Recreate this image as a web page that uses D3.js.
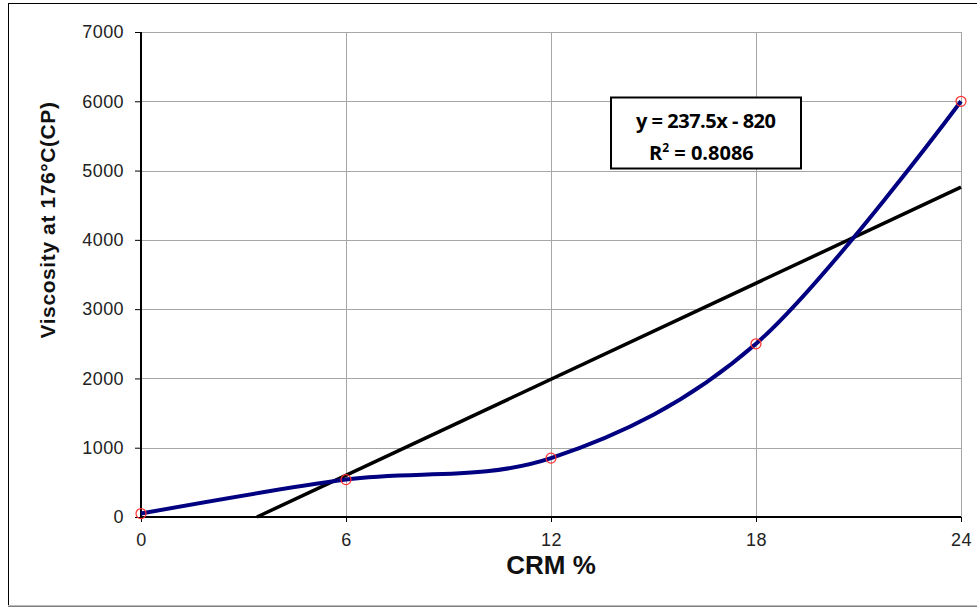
<!DOCTYPE html>
<html><head><meta charset="utf-8">
<script src="https://cdn.jsdelivr.net/npm/d3@7"></script>
<style>body{margin:0;background:#fff}svg{display:block}</style>
</head><body>
<svg id="c" width="977" height="607"></svg>
<script>
const crm = [0, 6, 12, 18, 24];
const viscosity = [50, 540, 850, 2500, 6000];
const xTicks = [0, 6, 12, 18, 24];
const yTicks = [0, 1000, 2000, 3000, 4000, 5000, 6000, 7000];
const eqLabel = "y = 237.5x - 820";
const r2Label = "0.8086";

const svg = d3.select("#c");
const m = {l:141, r:961, t:32, b:517};
const x = d3.scaleLinear().domain([0,24]).range([m.l, m.r]);
const y = d3.scaleLinear().domain([0,7000]).range([m.b, m.t]);

// chart border
svg.append("rect").attr("x",8.5).attr("y",3.5).attr("width",990).attr("height",602.5)
  .attr("fill","#fff").attr("stroke","#000").attr("stroke-width",1);
svg.append("line").attr("x1",8).attr("x2",977).attr("y1",605.5).attr("y2",605.5).attr("stroke","#bbb");

// grid
svg.append("g").selectAll("line").data(yTicks.filter(d=>d>0)).join("line")
  .attr("x1",m.l).attr("x2",m.r).attr("y1",d=>Math.round(y(d))+0.5).attr("y2",d=>Math.round(y(d))+0.5)
  .attr("stroke","#a6a6a6").attr("stroke-width",1);
svg.append("g").selectAll("line").data(xTicks.filter(d=>d>0)).join("line")
  .attr("y1",m.t).attr("y2",m.b).attr("x1",d=>Math.round(x(d))+0.5).attr("x2",d=>Math.round(x(d))+0.5)
  .attr("stroke","#a6a6a6").attr("stroke-width",1);

// axes
const gx = svg.append("g").attr("transform",`translate(0,${m.b})`)
  .call(d3.axisBottom(x).tickValues(xTicks).tickFormat(d3.format("d")).tickSize(5).tickPadding(11));
const gy = svg.append("g").attr("transform",`translate(${m.l},0)`)
  .call(d3.axisLeft(y).tickValues(yTicks).tickFormat(d3.format("d")).tickSize(6).tickPadding(11));
[gx,gy].forEach(g=>{
  g.select(".domain").attr("stroke","#000").attr("stroke-width",2);
  g.selectAll(".tick line").attr("stroke","#000");
  g.selectAll("text").attr("font-family","Liberation Sans, Arial, sans-serif").attr("font-size",18)
    .attr("letter-spacing",0.4).attr("fill","#222");
});
gx.select(".domain").attr("d",`M${m.l},0H${m.r}`);
gy.select(".domain").attr("d",`M0,${m.b}V${m.t}`);

// trendline (least squares)
const mx = d3.mean(crm), my = d3.mean(viscosity);
const slope = d3.sum(crm.map((v,i)=>(v-mx)*(viscosity[i]-my)))/d3.sum(crm.map(v=>(v-mx)**2));
const icpt = my - slope*mx;
const x0 = -icpt/slope;
svg.append("line").attr("x1",x(x0)).attr("y1",y(0)).attr("x2",x(24)).attr("y2",y(icpt+slope*24))
  .attr("stroke","#000").attr("stroke-width",3.5);

// smooth series
const pts = crm.map((v,i)=>[v, viscosity[i]]);
svg.append("path").datum(pts)
  .attr("d", d3.line().x(d=>x(d[0])).y(d=>y(d[1])).curve(d3.curveCatmullRom.alpha(0)))
  .attr("fill","none").attr("stroke","#000080").attr("stroke-width",4);
svg.append("g").selectAll("circle").data(pts).join("circle")
  .attr("cx",d=>x(d[0])).attr("cy",d=>y(d[1])).attr("r",5)
  .attr("fill","none").attr("stroke","#ff3030").attr("stroke-width",1.2);

// equation box
const box = svg.append("g");
box.append("rect").attr("x",611).attr("y",97.5).attr("width",190).attr("height",71)
  .attr("fill","#fff").attr("stroke","#000").attr("stroke-width",2);
box.append("text").attr("x",636).attr("y",128)
  .attr("font-family","Open Sans, sans-serif").attr("font-weight","bold").attr("font-size",20)
  .attr("textLength",140).text(eqLabel);
const t2 = box.append("text").attr("x",649).attr("y",160)
  .attr("font-family","Open Sans, sans-serif").attr("font-weight","bold").attr("font-size",20);
t2.append("tspan").text("R");
t2.append("tspan").attr("dy",-8).attr("font-size",12).text("2");
t2.append("tspan").attr("dy",8).text(" = " + r2Label);

// axis titles
svg.append("text").attr("x",551).attr("y",574).attr("text-anchor","middle")
  .attr("font-family","Liberation Sans, Arial, sans-serif").attr("font-weight","bold").attr("font-size",26)
  .attr("fill","#111").text("CRM %");
svg.append("text").attr("transform","translate(55,220) rotate(-90)").attr("text-anchor","middle")
  .attr("font-family","Liberation Sans, Arial, sans-serif").attr("font-weight","bold").attr("font-size",21)
  .attr("letter-spacing",0.6).attr("fill","#111").text("Viscosity at 176°C(CP)");
</script>
</body></html>
